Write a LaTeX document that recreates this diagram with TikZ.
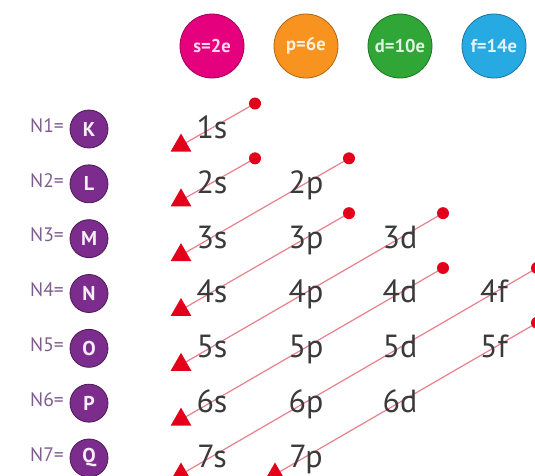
\documentclass[tikz,border=0pt]{standalone}
\usepackage{fontspec}
\setmainfont{PT Sans}
\usetikzlibrary{shapes.geometric,backgrounds}
\definecolor{pinkc}{HTML}{E5007D}
\definecolor{orangec}{HTML}{F7931E}
\definecolor{greenc}{HTML}{2FA636}
\definecolor{bluec}{HTML}{27A9E1}
\definecolor{purplec}{HTML}{7B2C8C}
\definecolor{ntext}{HTML}{7F5C90}
\definecolor{orbtext}{HTML}{3A3A3A}
\definecolor{linec}{HTML}{E8808C}
\definecolor{redc}{HTML}{E2001A}
\begin{document}
\begin{tikzpicture}[x=1pt,y=-1pt,
  hdr/.style={circle, minimum size=64pt, inner sep=0pt, draw=#1!70!black, line width=0.8pt, fill=#1,
    text=white!85!#1, font=\bfseries\fontsize{18.5}{18.5}\selectfont},
  shell/.style={circle, minimum size=38pt, inner sep=0pt, draw=purplec!60!black, line width=0.8pt,
    fill=purplec, text=white!92!purplec, font=\bfseries\fontsize{20}{20}\selectfont},
  nlab/.style={anchor=east, inner sep=0pt, text=ntext, font=\fontsize{19.5}{19.5}\selectfont},
  orb/.style={anchor=base, inner sep=0pt, text=orbtext, font=\fontsize{32}{32}\selectfont},
  dotend/.style={circle, fill=redc, minimum size=12pt, inner sep=0pt},
  triend/.style={regular polygon, regular polygon sides=3, fill=redc, minimum size=24pt, inner sep=0pt},
  diag/.style={draw=linec, line width=1.2pt}]
\clip (0,0) rectangle (535,475);
% header
\node[hdr=pinkc] (hs) at (212,46) {s=2e};
\node[hdr=orangec] (hp) at (306,46) {p=6e};
\node[hdr=greenc] (hd) at (400,46) {d=10e};
\node[hdr=bluec] (hf) at (494,46) {f=14e};
% shells
\foreach \n/\L in {1/K,2/L,3/M,4/N,5/O,6/P,7/Q}{
  \pgfmathsetmacro{\yy}{127.5+54.83*(\n-1)}
  \node[nlab] (nl\n) at (64,\yy-2) {N\n=};
  \node[shell] (sh\n) at (89,\yy+1.5) {\L};
}
% orbital positions
\foreach \n/\subs in {1/{s},2/{s,p},3/{s,p,d},4/{s,p,d,f},5/{s,p,d,f},6/{s,p,d},7/{s,p}}{
  \pgfmathsetmacro{\yy}{127.5+54.83*(\n-1)}
  \foreach \l/\xx in {s/212,p/306,d/400,f/494}{
    \coordinate (o\n\l) at (\xx,\yy);
  }
  \foreach \l in \subs {
    \node[orb] (t\n\l) at ([shift={(0,11)}]o\n\l) {\n\l};
  }
}
% diagonals
\foreach \k/\top/\bot in {1/1s/1s,2/2s/2s,3/2p/3s,4/3p/4s,5/3d/5s,6/4d/6s,7/4f/7s,8/5f/7p}{
  \node[dotend] (dot\k) at ([shift={(43,-24)}]o\top) {};
  \node[triend] (tri\k) at ([shift={(-31,18)}]o\bot) {};
  \begin{scope}[on background layer]
    \draw[diag] (dot\k.center) -- (tri\k.center);
  \end{scope}
}
\end{tikzpicture}
\end{document}
